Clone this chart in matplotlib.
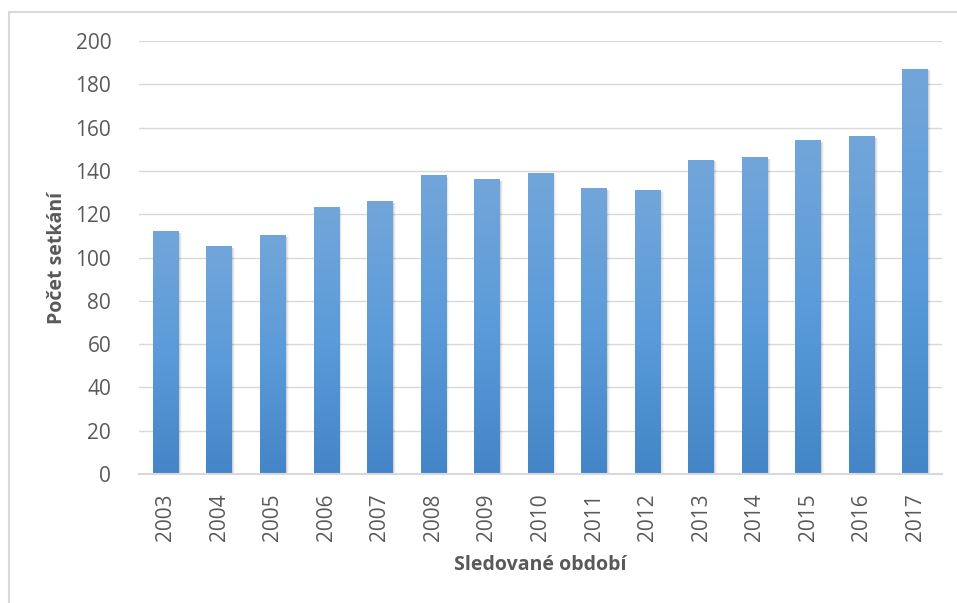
import numpy as np
import matplotlib.pyplot as plt
from matplotlib.colors import LinearSegmentedColormap
from matplotlib.patches import Rectangle

years = ['2003', '2004', '2005', '2006', '2007', '2008', '2009', '2010',
         '2011', '2012', '2013', '2014', '2015', '2016', '2017']
counts = [112, 105, 110, 123, 126, 138, 136, 139, 132, 131, 145, 146, 154, 156, 187]

plt.rcParams['font.family'] = ['Open Sans', 'DejaVu Sans']

fig = plt.figure(figsize=(9.57, 6.03), dpi=100)
ax = fig.add_axes([139/957, 1-474/603, (942-139)/957, (474-41)/603])

# outer chart border
fig.patches.append(Rectangle((9/957, -0.1), 1.2, 1.1-12/603, transform=fig.transFigure,
                             fill=False, edgecolor='#d9d9d9', linewidth=1.5))

cmap = LinearSegmentedColormap.from_list('bar', ['#4485c7', '#5b9bd9', '#72a6da'])
grad = np.linspace(0, 1, 256).reshape(-1, 1)
w = 0.48
x = np.arange(len(years))
for xi, v in zip(x, counts):
    # soft shadow
    for k, a in enumerate([0.09, 0.06, 0.03]):
        off = 0.02 * (k + 1)
        ax.add_patch(Rectangle((xi - w/2 + off, 0), w, v - 0.6, facecolor='#000000',
                               alpha=a, edgecolor='none', zorder=2))
    ax.imshow(grad, cmap=cmap, origin='lower', aspect='auto',
              extent=(xi - w/2, xi + w/2, 0, v), zorder=3)

ax.set_xlim(-0.5, len(years) - 0.5)
ax.set_ylim(0, 200)
ax.set_yticks(range(0, 201, 20))
ax.set_xticks(x)
ax.set_xticklabels(years, rotation=90)
ax.grid(axis='y', color='#d9d9d9', linewidth=1)
ax.set_axisbelow(True)
for s in ['top', 'right', 'left']:
    ax.spines[s].set_visible(False)
ax.spines['bottom'].set_color('#d9d9d9')
ax.spines['bottom'].set_linewidth(1.5)
ax.spines['bottom'].set_zorder(4)
ax.tick_params(length=0, colors='#595959', labelsize=15)
ax.tick_params(axis='y', pad=20)
ax.tick_params(axis='x', pad=14)

ax.set_ylabel('Počet setkání', fontsize=14, fontweight='bold', color='#595959', labelpad=6)
ax.set_xlabel('Sledované období', fontsize=14, fontweight='bold', color='#595959', labelpad=10)

fig.savefig('out.png', dpi=100)
